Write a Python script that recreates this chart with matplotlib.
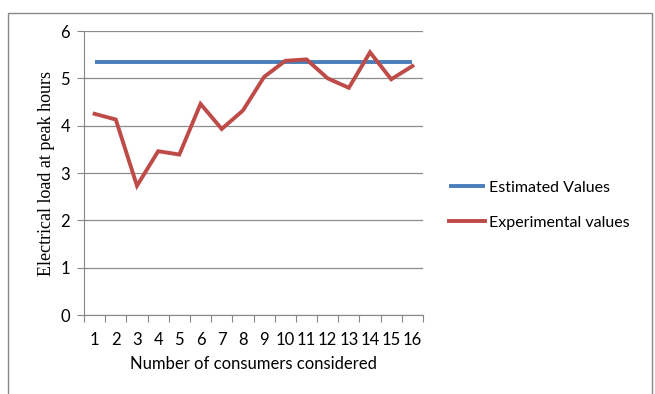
import numpy as np
import matplotlib.pyplot as plt
from matplotlib.patches import Rectangle

# data
consumers = list(range(1, 17))
estimated = [5.35] * 16
experimental = [4.25, 4.13, 2.73, 3.46, 3.39, 4.46, 3.93, 4.32,
                5.03, 5.37, 5.40, 5.00, 4.80, 5.55, 4.98, 5.26]

sans = ['Lato', 'DejaVu Sans']

fig = plt.figure(figsize=(6.55, 3.94), dpi=100)
ax = fig.add_axes([84 / 655, 1 - 315 / 394, (423 - 84) / 655, (315 - 31) / 394])

# outer chart border
fig.patches.append(Rectangle((8 / 655, -0.01), 644 / 655, 1 - 13 / 394 + 0.01,
                             transform=fig.transFigure, fill=False,
                             edgecolor='#868686', linewidth=1.0))

ax.plot(consumers, estimated, color='#4a7ebb', linewidth=2.8, label='Estimated Values',
        solid_capstyle='butt')
ax.plot(consumers, experimental, color='#be4b48', linewidth=2.8, label='Experimental values',
        solid_joinstyle='miter')

ax.set_xlim(0.5, 16.5)
ax.set_ylim(0, 6)
ax.set_yticks(np.arange(0, 7, 1))
ax.yaxis.grid(True, color='#8c8c8c', linewidth=0.9)
ax.set_axisbelow(True)

# tick marks between categories, labels at centers
ax.set_xticks(np.arange(0.5, 17, 1))
ax.set_xticklabels([])
ax.set_xticks(consumers, minor=True)
ax.set_xticklabels([str(c) for c in consumers], minor=True)
ax.tick_params(axis='x', which='minor', length=0, pad=12, labelsize=12)
ax.tick_params(axis='x', which='major', length=5, color='#868686')
ax.tick_params(axis='y', length=5, color='#868686', labelsize=12, pad=5)

for s in ['top', 'right']:
    ax.spines[s].set_visible(False)
for s in ['left', 'bottom']:
    ax.spines[s].set_color('#868686')

for lab in ax.get_xticklabels(minor=True) + ax.get_yticklabels():
    lab.set_family(sans)

ax.set_xlabel('Number of consumers considered', family=sans, fontsize=12, labelpad=6)
ax.set_ylabel('Electrical load at peak hours', family='Liberation Serif', fontsize=13,
              labelpad=4)

fig.legend(loc='center left', bbox_to_anchor=(435 / 655, 1 - 205 / 394), frameon=False,
           prop={'family': sans, 'size': 11.5},
           handlelength=2.2, handletextpad=0.3, labelspacing=1.3)

fig.savefig('out.png', dpi=100)
